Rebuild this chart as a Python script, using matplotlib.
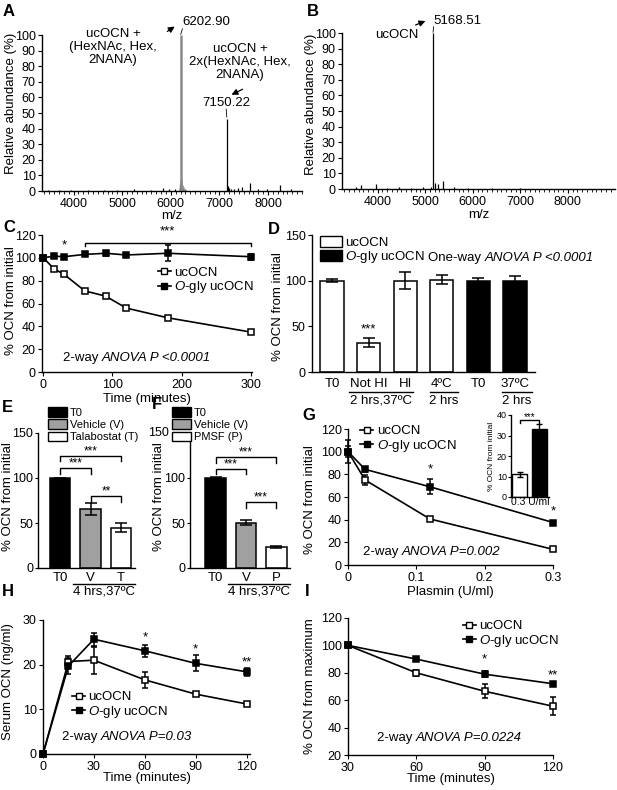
import matplotlib
matplotlib.use("Agg")
import matplotlib.pyplot as plt
from matplotlib.patches import Patch
from matplotlib.lines import Line2D
from matplotlib.ticker import MultipleLocator
from matplotlib.transforms import blended_transform_factory

plt.rcParams["font.family"] = ["Liberation Sans", "DejaVu Sans"]
plt.rcParams["mathtext.fontset"] = "custom"
plt.rcParams["mathtext.rm"] = "Liberation Sans"
plt.rcParams["mathtext.it"] = "Liberation Sans:italic"
plt.rcParams["font.size"] = 9.5
plt.rcParams["axes.linewidth"] = 1.0
plt.rcParams["xtick.major.size"] = 3
plt.rcParams["ytick.major.size"] = 3
plt.rcParams["xtick.major.pad"] = 2
plt.rcParams["ytick.major.pad"] = 1.5

W, H = 617, 790
FS = 9.5
TFS = 9
GLY = r"$\it{O}$-gly ucOCN"

# ---- A / B: mass spectra (m/z, relative abundance %) ----
spec_a_mz = [3480, 3700, 3950, 4300, 4620, 4900, 5250, 5600, 5830, 5960, 6080, 6195,
             7150.22, 7170, 7195, 7240, 7300, 7390, 7470, 7620, 7800, 7980, 8250, 8480]
spec_a_int = [0.6, 0.8, 0.5, 0.7, 0.9, 0.6, 1.0, 0.8, 2.0, 1.5, 1.0, 4.5,
              46, 3.5, 2.0, 1.5, 1.2, 1.8, 2.5, 5.0, 1.5, 1.2, 4.0, 1.0]
spec_a_grey_mz = [6185, 6202.90, 6215, 6230, 6255, 6290]
spec_a_grey_int = [2.0, 100, 7.5, 4.0, 2.5, 1.5]

spec_b_mz = [3550, 3640, 3960, 4200, 4450, 4700, 4950, 5120, 5168.51, 5200, 5270, 5380,
             5600, 5900, 6400, 7000]
spec_b_int = [1.0, 2.5, 3.0, 0.8, 1.0, 0.8, 1.0, 1.5, 100, 4.0, 3.0, 5.0,
              1.0, 0.6, 0.5, 0.4]

# ---- C: stability over time ----
c_time = [0, 15, 30, 60, 90, 120, 180, 300]
c_uc = [100, 90.5, 85.5, 71, 66.5, 56, 47.5, 35]
c_uc_err = [1, 1.5, 1, 1, 1, 1, 1, 1]
c_gly = [100, 101.5, 101, 103, 104, 102.5, 104, 101]
c_gly_err = [1, 1.5, 1.5, 1.5, 2, 2, 7, 2.5]

# ---- D: heat inactivation ----
d_labels = ["T0", "Not HI", "HI", "4ºC", "T0", "37ºC"]
d_vals = [100, 32, 100, 101, 100, 100]
d_err = [1.5, 5, 9, 5, 3, 5]
d_colors = ["white", "white", "white", "white", "black", "black"]

# ---- E / F: inhibitors ----
e_labels = ["T0", "V", "T"]
e_vals = [99.5, 65.5, 44.5]
e_err = [1, 6.5, 5]
f_labels = ["T0", "V", "P"]
f_vals = [100, 50.5, 23]
f_err = [1, 3, 1]
ef_colors = ["black", "#a0a0a0", "white"]

# ---- G: plasmin ----
g_dose = [0, 0.025, 0.12, 0.3]
g_uc = [100, 75, 40.6, 13.8]
g_uc_err = [10, 4.5, 1.5, 1]
g_gly = [100, 84.4, 69, 37.5]
g_gly_err = [5, 2, 6.5, 1.5]
g_inset_vals = [11, 33]
g_inset_err = [1, 2.5]

# ---- H: serum OCN ----
h_time = [0, 15, 30, 60, 90, 120]
h_uc = [0, 20.7, 21.0, 16.6, 13.4, 11.2]
h_uc_err = [0, 1.2, 3, 1.8, 0.5, 0.3]
h_gly = [0, 19.7, 25.7, 23.1, 20.3, 18.4]
h_gly_err = [0, 1.7, 1.5, 1.4, 1.8, 0.9]

# ---- I: % from maximum ----
i_time = [30, 60, 90, 120]
i_uc = [100, 80, 66.5, 55.6]
i_uc_err = [1, 2, 5, 6.5]
i_gly = [100, 90, 79, 72]
i_gly_err = [1, 1, 2, 1]


def rect(left, top, right, bottom):
    return [left / W, 1 - bottom / H, (right - left) / W, (bottom - top) / H]


def style(ax):
    for s in ("top", "right"):
        ax.spines[s].set_visible(False)
    ax.tick_params(direction="out", labelsize=TFS)


def anova(ax, x, y, pre, it, fs=FS):
    t = ax.text(x, y, pre, transform=ax.transAxes, fontsize=fs, va="center")
    ax.annotate(it, xy=(1, 0), xycoords=t, va="bottom", ha="left",
                style="italic", fontsize=fs)


def bracket(ax, x1, x2, y, h, label, fs=8.5, pad=0.5):
    ax.plot([x1, x1, x2, x2], [y - h, y, y, y - h], color="k", lw=1, clip_on=False)
    ax.text((x1 + x2) / 2, y + pad, label, ha="center", va="bottom", fontsize=fs)


def series(ax, x, y, err, filled, ms=5):
    ax.errorbar(x, y, yerr=err, color="k", lw=1.2, marker="s", ms=ms,
                mfc="k" if filled else "white", mec="k", mew=1.1,
                capsize=2.5, elinewidth=1.1, capthick=1.1, clip_on=False, zorder=3)


def line_legend(ax, x, y):
    hs = [Line2D([], [], color="k", marker="s", ms=5, mfc="white", mec="k", lw=1.2),
          Line2D([], [], color="k", marker="s", ms=5, mfc="k", mec="k", lw=1.2)]
    ax.legend(hs, ["ucOCN", GLY], loc="upper left", bbox_to_anchor=(x, y),
              frameon=False, handlelength=1.0, handletextpad=0.25,
              labelspacing=0.05, borderpad=0, borderaxespad=0, fontsize=FS)


def bar_legend(ax, labels, colors, x, y, fs=FS, hl=1.7, hh=0.85, ls=0.0):
    hs = [Patch(facecolor=c, edgecolor="k", lw=1) for c in colors]
    return ax.legend(hs, labels, loc="upper left", bbox_to_anchor=(x, y),
                     frameon=False, handlelength=hl, handleheight=hh,
                     handletextpad=0.2, labelspacing=ls, borderpad=0,
                     borderaxespad=0, fontsize=fs)


fig = plt.figure(figsize=(W / 100, H / 100), dpi=100)

# ================= A =================
ax = fig.add_axes(rect(42, 35, 302, 191))
style(ax)
ax.vlines(spec_a_mz, 0, spec_a_int, color="k", lw=0.9)
ax.vlines(spec_a_grey_mz, 0, spec_a_grey_int, color="#8a8a8a", lw=1.8)
ax.set_xlim(3350, 8700)
ax.set_ylim(0, 100)
ax.xaxis.set_major_locator(MultipleLocator(1000))
ax.xaxis.set_minor_locator(MultipleLocator(100))
ax.yaxis.set_major_locator(MultipleLocator(10))
ax.tick_params(which="minor", direction="out", length=1.8)
ax.set_xlabel("m/z", fontsize=FS)
ax.xaxis.set_label_coords(0.5, -0.12)
ax.set_ylabel("Relative abundance (%)", fontsize=FS)
ax.yaxis.set_label_coords(-0.095, 0.56)
ax.text(4811, 92.3, "ucOCN +\n(HexNAc, Hex,\n2NANA)", ha="center", va="center",
        fontsize=FS, linespacing=1.12)
ax.text(7424, 82.7, "ucOCN +\n2x(HexNAc, Hex,\n2NANA)", ha="center", va="center",
        fontsize=FS, linespacing=1.12)
ax.text(6231, 108.3, "6202.90", ha="left", va="center", fontsize=FS, clip_on=False)
ax.text(7136, 56.4, "7150.22", ha="center", va="center", fontsize=FS)
ax.annotate("", xy=(6128, 106.4), xytext=(5881, 101.3), annotation_clip=False,
            arrowprops=dict(arrowstyle="-|>", color="k", lw=0.9, mutation_scale=9))
ax.annotate("", xy=(7198, 60.9), xytext=(7527, 66.0), annotation_clip=False,
            arrowprops=dict(arrowstyle="-|>", color="k", lw=0.9, mutation_scale=9))
ax.plot([6240, 6205], [104, 100.5], color="k", lw=0.6, clip_on=False)
ax.plot([7140, 7152], [52.5, 47.5], color="k", lw=0.6)

# ================= B =================
ax = fig.add_axes(rect(342, 33, 615, 189))
style(ax)
ax.vlines(spec_b_mz, 0, spec_b_int, color="k", lw=0.9)
ax.set_xlim(3250, 8990)
ax.set_ylim(0, 100)
ax.xaxis.set_major_locator(MultipleLocator(1000))
ax.xaxis.set_minor_locator(MultipleLocator(100))
ax.yaxis.set_major_locator(MultipleLocator(10))
ax.tick_params(which="minor", direction="out", length=1.8)
ax.set_xlabel("m/z", fontsize=FS)
ax.xaxis.set_label_coords(0.5, -0.128)
ax.set_ylabel("Relative abundance (%)", fontsize=FS)
ax.yaxis.set_label_coords(-0.09, 0.54)
ax.text(5163, 108, "5168.51", ha="left", va="center", fontsize=FS, clip_on=False)
ax.text(4406, 98.7, "ucOCN", ha="center", va="center", fontsize=FS)
ax.annotate("", xy=(5058, 108.3), xytext=(4743, 104.5), annotation_clip=False,
            arrowprops=dict(arrowstyle="-|>", color="k", lw=0.9, mutation_scale=9))
ax.plot([5175, 5165], [104, 100.5], color="k", lw=0.6, clip_on=False)

# ================= C =================
ax = fig.add_axes(rect(42, 235, 252, 372))
style(ax)
series(ax, c_time, c_uc, c_uc_err, False)
series(ax, c_time, c_gly, c_gly_err, True)
ax.set_xlim(-2, 302)
ax.set_ylim(0, 120)
ax.set_xticks([0, 100, 200, 300])
ax.set_yticks(range(0, 121, 20))
ax.set_xlabel("Time (minutes)", fontsize=FS)
ax.xaxis.set_label_coords(0.5, -0.153)
ax.set_ylabel("% OCN from initial", fontsize=FS)
ax.yaxis.set_label_coords(-0.12, 0.52)
ax.text(c_time[2], 106, "*", ha="center", va="bottom", fontsize=FS)
bracket(ax, c_time[3], c_time[-1], 113, 3, "***", fs=FS, pad=5)
line_legend(ax, 0.55, 0.77)
anova(ax, 0.1, 0.10, "2-way ", "ANOVA P <0.0001")

# ================= D =================
ax = fig.add_axes(rect(312, 235, 535, 372))
style(ax)
xs = range(len(d_vals))
ax.bar(xs, d_vals, width=0.64, color=d_colors, edgecolor="k", lw=1.1,
       yerr=d_err, error_kw=dict(lw=1.1, capsize=4, capthick=1.1))
ax.set_xlim(-0.55, 5.55)
ax.set_ylim(0, 150)
ax.set_yticks([0, 50, 100, 150])
ax.set_xticks(list(xs))
ax.set_xticklabels(d_labels, fontsize=FS)
ax.tick_params(axis="x", length=0, pad=4)
ax.set_ylabel("% OCN from initial", fontsize=FS)
ax.yaxis.set_label_coords(-0.126, 0.48)
ax.text(1, 40, "***", ha="center", va="bottom", fontsize=FS)
bar_legend(ax, ["ucOCN", GLY], ["white", "black"], 0.036, 0.99)
t = ax.text(2.62, 0.83, "One-way ", transform=ax.get_xaxis_transform(), va="center",
            fontsize=FS)
ax.annotate("ANOVA P <0.0001", xy=(1, 0), xycoords=t, va="bottom", style="italic",
            fontsize=FS)
tr = ax.get_xaxis_transform()
for x1, x2, lab in [(0.45, 2.21, "2 hrs,37ºC"), (2.68, 3.44, "2 hrs"), (4.64, 5.48, "2 hrs")]:
    ax.plot([x1, x2], [-0.146, -0.146], color="k", lw=1, transform=tr, clip_on=False)
    ax.text((x1 + x2) / 2, -0.165, lab, transform=tr, ha="center", va="top", fontsize=FS)

# ================= E / F =================
for left, right, labels, vals, errs, names, brs, lx, x0, ylx in [
        (38, 135, e_labels, e_vals, e_err, ["T0", "Vehicle (V)", "Talabostat (T)"],
         [(0, 1, 111, "***"), (0, 2, 124.5, "***"), (1, 2, 79.5, "**")], 0.103, -0.72, -0.25),
        (190, 290, f_labels, f_vals, f_err, ["T0", "Vehicle (V)", "PMSF (P)"],
         [(0, 1, 110, "***"), (0, 2, 123, "***"), (1, 2, 73, "***")], -0.18, -0.84, -0.245)]:
    ax = fig.add_axes(rect(left, 433, right, 568))
    style(ax)
    ax.bar(range(3), vals, width=0.67, color=ef_colors, edgecolor="k", lw=1.1,
           yerr=errs, error_kw=dict(lw=1.1, capsize=4, capthick=1.1))
    ax.set_xlim(x0, 2.45)
    ax.set_ylim(0, 150)
    ax.set_yticks([0, 50, 100, 150])
    ax.set_xticks(range(3))
    ax.set_xticklabels(labels, fontsize=FS)
    ax.tick_params(axis="x", length=0, pad=3)
    ax.tick_params(axis="y", length=2.5, pad=0.8)
    ax.set_ylabel("% OCN from initial", fontsize=FS)
    ax.yaxis.set_label_coords(ylx, 0.53)
    for i1, i2, y, lab in brs:
        bracket(ax, i1, i2, y, 6, lab, fs=8.5, pad=-1.5)
    bar_legend(ax, names, ef_colors, lx, 1.19, fs=8, hl=1.75, hh=0.9, ls=0.15)
    if lx < 0:
        # legend swatches sit over the axis top here, so the 150 label moves left
        ax.set_yticklabels(["0", "50", "100", ""])
        btr = blended_transform_factory(ax.transAxes, ax.transData)
        ax.text(-0.215, 150, "150", transform=btr, ha="right", va="center",
                fontsize=TFS)
    tr = ax.get_xaxis_transform()
    ax.plot([0.42, 2.45], [-0.119, -0.119], color="k", lw=1, transform=tr, clip_on=False)
    ax.text(1.43, -0.128, "4 hrs,37ºC", transform=tr, ha="center", va="top", fontsize=FS)

# ================= G =================
ax = fig.add_axes(rect(348, 429, 553, 565))
style(ax)
series(ax, g_dose, g_uc, g_uc_err, False)
series(ax, g_dose, g_gly, g_gly_err, True)
ax.set_xlim(0, 0.3)
ax.set_ylim(0, 120)
ax.set_xticks([0, 0.1, 0.2, 0.3])
ax.set_xticklabels(["0", "0.1", "0.2", "0.3"])
ax.set_yticks(range(0, 121, 20))
ax.set_xlabel("Plasmin (U/ml)", fontsize=FS)
ax.xaxis.set_label_coords(0.5, -0.154)
ax.set_ylabel("% OCN from initial", fontsize=FS)
ax.yaxis.set_label_coords(-0.156, 0.48)
ax.text(g_dose[2], 79, "*", ha="center", va="bottom", fontsize=FS)
ax.text(g_dose[3], 42, "*", ha="center", va="bottom", fontsize=FS, clip_on=False)
line_legend(ax, 0.06, 1.03)
anova(ax, 0.073, 0.096, "2-way ", "ANOVA P=0.002")

ax = fig.add_axes(rect(511, 415, 549, 497))
style(ax)
ax.bar([0, 1], g_inset_vals, width=0.77, color=["white", "black"], edgecolor="k",
       lw=1, yerr=g_inset_err, error_kw=dict(lw=1, capsize=2.5, capthick=1))
ax.set_xlim(-0.45, 1.5)
ax.set_ylim(0, 40)
ax.set_yticks(range(0, 41, 10))
ax.set_xticks([])
ax.tick_params(axis="y", labelsize=6.5, length=2, pad=1)
ax.set_xlabel("0.3 U/ml", fontsize=7.5, labelpad=0)
ax.set_ylabel("% OCN from initial", fontsize=6, labelpad=1)
bracket(ax, 0, 1, 37.5, 1.5, "***", fs=7, pad=-0.8)

# ================= H =================
ax = fig.add_axes(rect(43, 620, 250, 754))
style(ax)
series(ax, h_time, h_uc, h_uc_err, False)
series(ax, h_time, h_gly, h_gly_err, True)
ax.set_xlim(0, 122)
ax.set_ylim(0, 30)
ax.set_xticks(h_time[:1] + h_time[2:])
ax.set_yticks([0, 10, 20, 30])
ax.set_xlabel("Time (minutes)", fontsize=FS)
ax.xaxis.set_label_coords(0.5, -0.135)
ax.set_ylabel("Serum OCN (ng/ml)", fontsize=FS)
ax.yaxis.set_label_coords(-0.14, 0.54)
for x, y, lab in [(60, 24.7, "*"), (90, 22.1, "*"), (120, 19.1, "**")]:
    ax.text(x, y, lab, ha="center", va="bottom", fontsize=FS)
line_legend(ax, 0.14, 0.47)
anova(ax, 0.09, 0.126, "2-way ", "ANOVA P=0.03")

# ================= I =================
ax = fig.add_axes(rect(348, 618, 553, 755))
style(ax)
series(ax, i_time, i_uc, i_uc_err, False)
series(ax, i_time, i_gly, i_gly_err, True)
ax.set_xlim(30, 120)
ax.set_ylim(20, 120)
ax.set_xticks(i_time)
ax.set_yticks(range(20, 121, 20))
ax.set_xlabel("Time (minutes)", fontsize=FS)
ax.xaxis.set_label_coords(0.5, -0.132)
ax.set_ylabel("% OCN from maximum", fontsize=FS)
ax.yaxis.set_label_coords(-0.156, 0.5)
for x, y, lab in [(90, 85.5, "*"), (120, 74, "**")]:
    ax.text(x, y, lab, ha="center", va="bottom", fontsize=FS)
line_legend(ax, 0.56, 0.985)
anova(ax, 0.14, 0.124, "2-way ", "ANOVA P=0.0224")

# panel letters
for lab, px, py in [("A", 3, 11), ("B", 307, 11), ("C", 3, 228), ("D", 268, 229),
                    ("E", 2, 407), ("F", 152, 405), ("G", 302, 415), ("H", 2, 592),
                    ("I", 305, 592)]:
    fig.text(px / W, 1 - py / H, lab, fontsize=12, fontweight="bold",
             ha="left", va="center")

fig.savefig("out.png", dpi=100)
